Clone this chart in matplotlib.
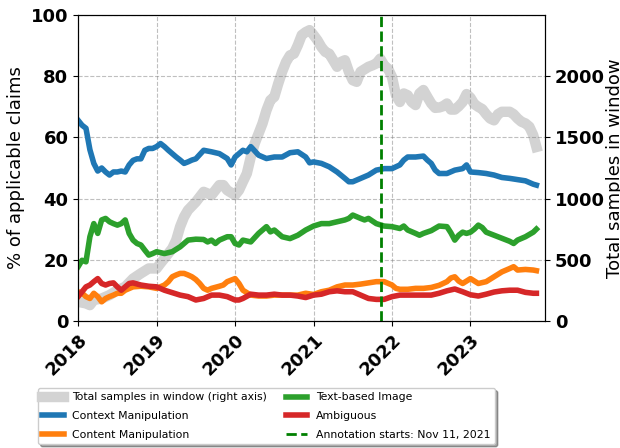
import matplotlib
matplotlib.use("Agg")
import matplotlib.pyplot as plt
import matplotlib.dates as mdates
import pandas as pd

# (years since 2018-01-01, value)
total_samples = [(0, 155), (0.1, 142), (0.15, 128), (0.2, 170), (0.3, 182), (0.4, 210), (0.5, 250),
                 (0.6, 278), (0.7, 345), (0.8, 388), (0.9, 428), (1.0, 428), (1.05, 470), (1.1, 510),
                 (1.2, 592), (1.25, 660), (1.3, 770), (1.35, 850), (1.4, 905), (1.5, 972), (1.6, 1055),
                 (1.7, 1028), (1.8, 1110), (1.85, 1110), (1.9, 1068), (2.0, 1028), (2.05, 1068),
                 (2.1, 1138), (2.15, 1205), (2.2, 1340), (2.25, 1450), (2.3, 1532), (2.35, 1615),
                 (2.4, 1722), (2.45, 1805), (2.5, 1832), (2.55, 1940), (2.6, 2038), (2.65, 2118),
                 (2.7, 2172), (2.75, 2185), (2.8, 2255), (2.85, 2338), (2.9, 2362), (2.95, 2378),
                 (3.0, 2338), (3.05, 2295), (3.1, 2240), (3.15, 2200), (3.2, 2185), (3.25, 2132),
                 (3.3, 2078), (3.35, 2118), (3.4, 2132), (3.45, 2038), (3.5, 1968), (3.55, 1955),
                 (3.6, 2038), (3.7, 2078), (3.75, 2090), (3.8, 2105), (3.85, 2145), (3.9, 2090),
                 (3.95, 2062), (4.0, 1995), (4.05, 1845), (4.1, 1790), (4.15, 1860), (4.2, 1845),
                 (4.25, 1790), (4.3, 1765), (4.35, 1860), (4.4, 1888), (4.45, 1832), (4.5, 1778),
                 (4.55, 1742), (4.6, 1745), (4.65, 1755), (4.7, 1778), (4.75, 1728), (4.8, 1728),
                 (4.85, 1755), (4.9, 1790), (4.95, 1855), (5.0, 1825), (5.05, 1772), (5.1, 1750),
                 (5.15, 1732), (5.2, 1690), (5.25, 1655), (5.3, 1640), (5.35, 1690), (5.4, 1710),
                 (5.5, 1710), (5.55, 1690), (5.6, 1655), (5.65, 1628), (5.7, 1615), (5.75, 1588),
                 (5.8, 1518), (5.84, 1422)]

context = [(0, 65.6), (0.05, 64), (0.1, 63), (0.15, 56), (0.2, 51.5), (0.25, 49), (0.3, 50), (0.35, 48.7),
           (0.4, 47.7), (0.45, 48.7), (0.5, 48.7), (0.55, 49), (0.6, 48.7), (0.65, 51), (0.7, 52.5),
           (0.75, 53), (0.8, 53), (0.85, 55.8), (0.9, 56.4), (0.95, 56.4), (1.0, 57), (1.05, 58),
           (1.1, 57), (1.15, 55.8), (1.2, 54.7), (1.25, 53.6), (1.3, 52.6), (1.35, 51.5), (1.4, 52),
           (1.45, 52.6), (1.5, 53), (1.6, 55.8), (1.7, 55.3), (1.8, 54.7), (1.9, 53.1), (1.95, 51),
           (2.0, 53.6), (2.1, 55.8), (2.15, 55.3), (2.2, 57), (2.3, 54.2), (2.4, 53.1), (2.5, 53.6),
           (2.6, 53.6), (2.7, 55), (2.8, 55.3), (2.9, 53.6), (2.95, 51.7), (3.0, 52), (3.1, 51.5),
           (3.2, 50.4), (3.3, 48.7), (3.4, 46.6), (3.45, 45.5), (3.5, 45.5), (3.6, 46.6), (3.7, 47.7),
           (3.8, 49.3), (3.9, 49.8), (4.0, 49.8), (4.1, 51), (4.15, 52.6), (4.2, 53.6), (4.3, 53.6),
           (4.4, 53.9), (4.45, 52.6), (4.5, 51.5), (4.55, 49.3), (4.6, 48.2), (4.7, 48.2), (4.8, 49.3),
           (4.9, 49.8), (4.95, 51), (5.0, 48.7), (5.1, 48.5), (5.2, 48.2), (5.3, 47.7), (5.4, 46.9),
           (5.5, 46.6), (5.6, 46.2), (5.7, 45.8), (5.8, 44.7), (5.84, 44.4)]

content = [(0, 9.5), (0.05, 9), (0.1, 7.9), (0.15, 7.3), (0.2, 9), (0.25, 7.9), (0.3, 6.2), (0.35, 7.3),
           (0.4, 7.9), (0.45, 8.4), (0.5, 9), (0.55, 9), (0.6, 10), (0.7, 11.1), (0.8, 11.3), (0.9, 11.1),
           (1.0, 10.6), (1.1, 11.7), (1.15, 12.8), (1.2, 14.4), (1.25, 15), (1.3, 15.5), (1.35, 15.5),
           (1.4, 15), (1.45, 14.4), (1.5, 13.5), (1.55, 12.2), (1.6, 10.6), (1.65, 10), (1.7, 10.6),
           (1.8, 11.3), (1.85, 11.7), (1.9, 12.8), (1.95, 13.3), (2.0, 13.8), (2.05, 12.2), (2.1, 10),
           (2.15, 9.2), (2.2, 8.4), (2.3, 8.1), (2.4, 8.1), (2.5, 8.4), (2.6, 8.4), (2.7, 8.4), (2.8, 8.4),
           (2.9, 9), (3.0, 8.6), (3.1, 9.5), (3.2, 10), (3.3, 11.1), (3.4, 11.7), (3.5, 11.7), (3.6, 12),
           (3.7, 12.4), (3.8, 12.8), (3.9, 12.8), (4.0, 11.7), (4.05, 10.6), (4.1, 10.3), (4.2, 10.3),
           (4.3, 10.6), (4.4, 10.6), (4.5, 10.9), (4.6, 11.6), (4.7, 12.8), (4.75, 14), (4.8, 14.4),
           (4.85, 13), (4.9, 12.2), (5.0, 13.8), (5.05, 13), (5.1, 12.2), (5.2, 12.8), (5.3, 14.4),
           (5.4, 16), (5.5, 17.1), (5.55, 17.7), (5.6, 16.6), (5.7, 16.8), (5.8, 16.6), (5.84, 16.4)]

text_image = [(0, 17.7), (0.05, 19.8), (0.1, 19.3), (0.15, 27.5), (0.2, 31.8), (0.25, 28.6), (0.3, 33),
              (0.35, 33.5), (0.4, 32.4), (0.45, 31.8), (0.5, 31.3), (0.55, 31.8), (0.6, 33), (0.65, 28.6),
              (0.7, 26.4), (0.75, 25.3), (0.8, 24.8), (0.85, 23.1), (0.9, 21.5), (0.95, 22), (1.0, 22.6),
              (1.1, 22), (1.2, 22.6), (1.3, 24.2), (1.35, 25.3), (1.4, 26.4), (1.5, 26.7), (1.6, 26.6),
              (1.65, 25.8), (1.7, 26.4), (1.75, 25.3), (1.8, 26.4), (1.9, 27.5), (1.95, 27.5), (2.0, 25.3),
              (2.05, 24.8), (2.1, 26.4), (2.2, 25.8), (2.3, 28.6), (2.35, 29.7), (2.4, 30.8), (2.45, 29.1),
              (2.5, 29.7), (2.6, 27.5), (2.7, 26.9), (2.8, 28), (2.9, 29.7), (3.0, 31), (3.1, 31.8),
              (3.2, 31.8), (3.3, 32.4), (3.4, 33), (3.45, 33.5), (3.5, 34.6), (3.6, 33.5), (3.65, 33),
              (3.7, 33.5), (3.8, 31.8), (3.9, 31), (4.0, 30.8), (4.1, 30.2), (4.15, 31), (4.2, 29.7),
              (4.3, 28.6), (4.35, 28), (4.4, 28.6), (4.5, 29.5), (4.6, 31), (4.7, 30.8), (4.75, 28.8),
              (4.8, 26.4), (4.85, 28), (4.9, 29), (4.95, 28.6), (5.0, 29), (5.05, 30), (5.1, 31.3),
              (5.15, 30.5), (5.2, 29), (5.3, 28), (5.4, 27), (5.5, 26), (5.55, 25.3), (5.6, 26.4),
              (5.7, 27.5), (5.8, 29), (5.84, 30)]

ambiguous = [(0, 7.9), (0.05, 9.5), (0.1, 11.1), (0.15, 11.7), (0.2, 12.8), (0.25, 13.8), (0.3, 12.2),
             (0.35, 11.7), (0.4, 12.2), (0.45, 12.4), (0.5, 11.1), (0.55, 10), (0.6, 11.1), (0.65, 12.2),
             (0.7, 12.4), (0.8, 11.7), (0.9, 11.3), (1.0, 11.1), (1.1, 10), (1.2, 9.2), (1.3, 8.4),
             (1.4, 7.9), (1.5, 6.8), (1.6, 7.3), (1.7, 8.4), (1.8, 8.4), (1.9, 7.9), (2.0, 6.8), (2.05, 6.8),
             (2.1, 7.3), (2.2, 8.7), (2.3, 8.4), (2.4, 8.4), (2.5, 8.7), (2.6, 8.4), (2.7, 8.4), (2.8, 8.1),
             (2.9, 7.6), (3.0, 8.4), (3.1, 8.7), (3.2, 9.5), (3.3, 9.8), (3.4, 9.5), (3.5, 9.5), (3.6, 8.4),
             (3.7, 7.3), (3.8, 7), (3.9, 7), (4.0, 7.9), (4.1, 8.4), (4.2, 8.4), (4.3, 8.4), (4.4, 8.4),
             (4.5, 8.4), (4.6, 9), (4.7, 9.8), (4.8, 10.4), (4.9, 9.5), (5.0, 8.5), (5.1, 8.1), (5.2, 8.7),
             (5.3, 9.4), (5.4, 9.8), (5.5, 10), (5.6, 10), (5.7, 9.3), (5.8, 9), (5.84, 9)]

annotation_start = "2021-11-11"
start = pd.Timestamp("2018-01-01")


def to_xy(series):
    t = [p[0] for p in series]
    v = [p[1] for p in series]
    dates = start + pd.to_timedelta([x * 365.25 for x in t], unit="D")
    return dates, v


fig, ax = plt.subplots(figsize=(6.2, 4.48), dpi=100)
ax2 = ax.twinx()

d, v = to_xy(total_samples)
ln0, = ax2.plot(d, v, color="lightgray", lw=7.5, label="Total samples in window (right axis)")

d, v = to_xy(context)
ln1, = ax.plot(d, v, color="tab:blue", lw=4, label="Context Manipulation")
d, v = to_xy(content)
ln2, = ax.plot(d, v, color="tab:orange", lw=4, label="Content Manipulation")
d, v = to_xy(text_image)
ln3, = ax.plot(d, v, color="tab:green", lw=4, label="Text-based Image")
d, v = to_xy(ambiguous)
ln4, = ax.plot(d, v, color="tab:red", lw=4, label="Ambiguous")
ln5 = ax.axvline(pd.Timestamp(annotation_start), color="green", ls="--", lw=2,
                 label="Annotation starts: Nov 11, 2021")

ax.set_zorder(ax2.get_zorder() + 1)
ax.patch.set_visible(False)

ax.set_xlim(pd.Timestamp("2018-01-01"), pd.Timestamp("2023-12-14"))
ax.set_ylim(0, 100)
ax2.set_ylim(0, 2500)
ax2.set_yticks([0, 500, 1000, 1500, 2000])

ax.xaxis.set_major_locator(mdates.YearLocator())
ax.xaxis.set_major_formatter(mdates.DateFormatter("%Y"))
ax.grid(True, ls="--", color="gray", alpha=0.5)

ax.set_ylabel("% of applicable claims", fontsize=13)
ax2.set_ylabel("Total samples in window", fontsize=13, labelpad=1)
for lab in ax.get_yticklabels() + ax2.get_yticklabels():
    lab.set_fontweight("bold")
    lab.set_fontsize(13)
for lab in ax.get_xticklabels():
    lab.set_fontweight("bold")
    lab.set_fontsize(13)
    lab.set_rotation(45)
    lab.set_ha("right")
    lab.set_rotation_mode("anchor")

fig.subplots_adjust(left=0.126, right=0.879, top=0.966, bottom=0.284)
fig.legend(handles=[ln0, ln1, ln2, ln3, ln4, ln5], loc="upper left",
           bbox_to_anchor=(0.061, 0.134), ncol=2, fontsize=7.8, shadow=True,
           borderaxespad=0, columnspacing=1.7, labelspacing=0.8)

fig.savefig("out.png", dpi=100)
